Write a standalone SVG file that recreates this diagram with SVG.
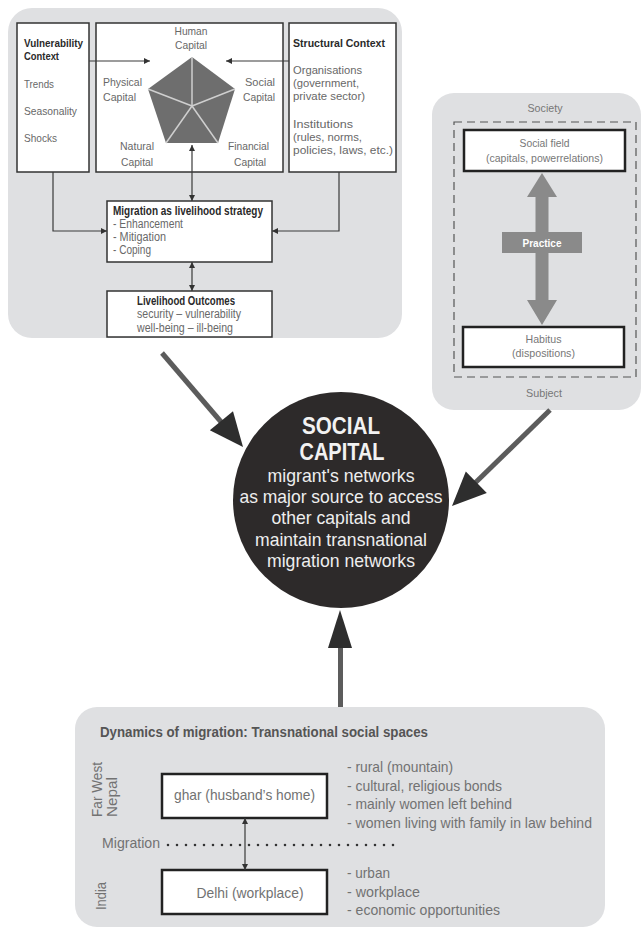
<svg xmlns="http://www.w3.org/2000/svg" width="644" height="930" viewBox="0 0 644 930">
<defs>
<style>
text{font-family:"Liberation Sans",Arial,sans-serif;}
.panel{fill:#dfe0e2;}
.box{fill:#fff;stroke:#333;stroke-width:1.5;}
.bbox{fill:#fff;stroke:#222;stroke-width:2.5;}
.t{font-size:11px;fill:#686868;}
.tb{font-size:11px;font-weight:bold;fill:#2a2a2a;}
.m{font-size:12px;fill:#686868;}
.mb{font-size:12px;font-weight:bold;fill:#2a2a2a;}
.s{font-size:11.5px;fill:#777;text-anchor:middle;}
.c1{font-size:23px;font-weight:bold;fill:#f2f2f2;text-anchor:middle;}
.c2{font-size:19px;fill:#eee;text-anchor:middle;}
.g{font-size:14.5px;fill:#727272;}
.thin{stroke:#3a3a3a;stroke-width:1.2;fill:none;}
.big{stroke:#5c5c5c;stroke-width:5;fill:none;}
.head{fill:#2e2e2e;}
.spoke{stroke:#cfcfcf;stroke-width:1.5;}
</style>
<marker id="ah" viewBox="0 0 10 10" refX="10" refY="5" markerWidth="7" markerHeight="6" orient="auto-start-reverse" markerUnits="userSpaceOnUse"><path d="M0,0 L10,5 L0,10 z" fill="#333"/></marker>
</defs>
<rect width="644" height="930" fill="#fff"/>

<g id="livelihood-panel">
<rect class="panel" x="8" y="8" width="394" height="330" rx="24"/>
</g>

<g id="vulnerability-context">
<rect class="box" x="17" y="23" width="72" height="149"/>
<text class="tb" x="24" y="47" textLength="59" lengthAdjust="spacingAndGlyphs">Vulnerability</text>
<text class="tb" x="24" y="60" textLength="35" lengthAdjust="spacingAndGlyphs">Context</text>
<text class="t" x="24" y="88" textLength="30" lengthAdjust="spacingAndGlyphs">Trends</text>
<text class="t" x="24" y="115" textLength="53" lengthAdjust="spacingAndGlyphs">Seasonality</text>
<text class="t" x="24" y="142" textLength="33" lengthAdjust="spacingAndGlyphs">Shocks</text>
</g>

<g id="capitals">
<rect class="box" x="96" y="23" width="187" height="149"/>
<polygon points="192,57 235,89 218,143 166,143 148,89" fill="#6e6e6e"/>
<line class="spoke" x1="192" y1="106" x2="192" y2="57"/>
<line class="spoke" x1="192" y1="106" x2="235" y2="89"/>
<line class="spoke" x1="192" y1="106" x2="218" y2="143"/>
<line class="spoke" x1="192" y1="106" x2="166" y2="143"/>
<line class="spoke" x1="192" y1="106" x2="148" y2="89"/>
<text class="t" x="191" y="35" text-anchor="middle" textLength="33" lengthAdjust="spacingAndGlyphs">Human</text>
<text class="t" x="191" y="49" text-anchor="middle" textLength="32" lengthAdjust="spacingAndGlyphs">Capital</text>
<text class="t" x="103" y="86" textLength="39" lengthAdjust="spacingAndGlyphs">Physical</text>
<text class="t" x="103" y="101" textLength="33" lengthAdjust="spacingAndGlyphs">Capital</text>
<text class="t" x="275" y="86" text-anchor="end" textLength="30" lengthAdjust="spacingAndGlyphs">Social</text>
<text class="t" x="275" y="101" text-anchor="end" textLength="32" lengthAdjust="spacingAndGlyphs">Capital</text>
<text class="t" x="137" y="150" text-anchor="middle" textLength="34" lengthAdjust="spacingAndGlyphs">Natural</text>
<text class="t" x="137" y="166" text-anchor="middle" textLength="32" lengthAdjust="spacingAndGlyphs">Capital</text>
<text class="t" x="269" y="150" text-anchor="end" textLength="41" lengthAdjust="spacingAndGlyphs">Financial</text>
<text class="t" x="266" y="166" text-anchor="end" textLength="32" lengthAdjust="spacingAndGlyphs">Capital</text>
</g>

<g id="structural-context">
<rect class="box" x="289" y="23" width="107" height="149"/>
<text class="tb" x="293" y="47" textLength="92" lengthAdjust="spacingAndGlyphs">Structural Context</text>
<text class="t" x="293" y="74" textLength="69" lengthAdjust="spacingAndGlyphs">Organisations</text>
<text class="t" x="293" y="87" textLength="66" lengthAdjust="spacingAndGlyphs">(government,</text>
<text class="t" x="293" y="100" textLength="72" lengthAdjust="spacingAndGlyphs">private sector)</text>
<text class="t" x="293" y="128" textLength="60" lengthAdjust="spacingAndGlyphs">Institutions</text>
<text class="t" x="293" y="141" textLength="69" lengthAdjust="spacingAndGlyphs">(rules, norms,</text>
<text class="t" x="293" y="154" textLength="100" lengthAdjust="spacingAndGlyphs">policies, laws, etc.)</text>
</g>

<g id="migration-strategy">
<rect class="box" x="107" y="201" width="165" height="61"/>
<text class="mb" x="113" y="215" textLength="150" lengthAdjust="spacingAndGlyphs">Migration as livelihood strategy</text>
<text class="m" x="113" y="228" textLength="70" lengthAdjust="spacingAndGlyphs">- Enhancement</text>
<text class="m" x="113" y="241" textLength="53" lengthAdjust="spacingAndGlyphs">- Mitigation</text>
<text class="m" x="113" y="254" textLength="38" lengthAdjust="spacingAndGlyphs">- Coping</text>
</g>

<g id="livelihood-outcomes">
<rect class="box" x="107" y="291" width="165" height="46"/>
<text class="mb" x="137" y="305" textLength="98" lengthAdjust="spacingAndGlyphs">Livelihood Outcomes</text>
<text class="m" x="137" y="318" textLength="104" lengthAdjust="spacingAndGlyphs">security – vulnerability</text>
<text class="m" x="137" y="332" textLength="96" lengthAdjust="spacingAndGlyphs">well-being – ill-being</text>
</g>

<g id="society-panel">
<rect class="panel" x="432" y="93" width="209" height="317" rx="22"/>
<text class="s" x="545" y="112" textLength="35" lengthAdjust="spacingAndGlyphs">Society</text>
<rect x="454" y="122" width="182" height="255" fill="none" stroke="#555" stroke-width="1.2" stroke-dasharray="8,5"/>
<text class="s" x="544" y="397" textLength="36" lengthAdjust="spacingAndGlyphs">Subject</text>
</g>

<g id="social-field">
<rect class="bbox" x="464" y="130" width="161" height="41"/>
<text class="s" x="544.5" y="147" textLength="50" lengthAdjust="spacingAndGlyphs">Social field</text>
<text class="s" x="544.5" y="162" textLength="117" lengthAdjust="spacingAndGlyphs">(capitals, powerrelations)</text>
</g>

<g id="habitus">
<rect class="bbox" x="463" y="327" width="161" height="40"/>
<text class="s" x="543.5" y="343" textLength="36" lengthAdjust="spacingAndGlyphs">Habitus</text>
<text class="s" x="543.5" y="357" textLength="63" lengthAdjust="spacingAndGlyphs">(dispositions)</text>
</g>

<g id="social-capital">
<circle cx="341" cy="500" r="108" fill="#2d2a2a"/>
<text class="c1" x="341" y="434" textLength="78" lengthAdjust="spacingAndGlyphs">SOCIAL</text>
<text class="c1" x="342" y="460" textLength="85" lengthAdjust="spacingAndGlyphs">CAPITAL</text>
<text class="c2" x="341" y="482" textLength="147" lengthAdjust="spacingAndGlyphs">migrant's networks</text>
<text class="c2" x="341" y="503" textLength="203" lengthAdjust="spacingAndGlyphs">as major source to access</text>
<text class="c2" x="341" y="524" textLength="139" lengthAdjust="spacingAndGlyphs">other capitals and</text>
<text class="c2" x="341" y="546" textLength="172" lengthAdjust="spacingAndGlyphs">maintain transnational</text>
<text class="c2" x="341" y="567" textLength="148" lengthAdjust="spacingAndGlyphs">migration networks</text>
</g>

<g id="transnational-panel">
<rect class="panel" x="75" y="707" width="530" height="220" rx="22"/>
<text x="100" y="737" font-size="14.5" font-weight="bold" fill="#555" textLength="328" lengthAdjust="spacingAndGlyphs">Dynamics of migration: Transnational social spaces</text>
<text class="g" transform="translate(102,817) rotate(-90)" textLength="55" lengthAdjust="spacingAndGlyphs">Far West</text>
<text class="g" transform="translate(117,817) rotate(-90)" textLength="40" lengthAdjust="spacingAndGlyphs">Nepal</text>
<text class="g" transform="translate(106,910) rotate(-90)" textLength="28" lengthAdjust="spacingAndGlyphs">India</text>
<text class="g" x="102" y="848" textLength="58" lengthAdjust="spacingAndGlyphs">Migration</text>
<line x1="168" y1="845" x2="400" y2="845" stroke="#333" stroke-width="2.6" stroke-linecap="round" stroke-dasharray="0,9"/>
<text class="g" x="347" y="772" textLength="106" lengthAdjust="spacingAndGlyphs">- rural (mountain)</text>
<text class="g" x="347" y="790.5" textLength="155" lengthAdjust="spacingAndGlyphs">- cultural, religious bonds</text>
<text class="g" x="347" y="809" textLength="165" lengthAdjust="spacingAndGlyphs">- mainly women left behind</text>
<text class="g" x="347" y="827.5" textLength="245" lengthAdjust="spacingAndGlyphs">- women living with family in law behind</text>
<text class="g" x="347" y="878" textLength="43" lengthAdjust="spacingAndGlyphs">- urban</text>
<text class="g" x="347" y="896.5" textLength="73" lengthAdjust="spacingAndGlyphs">- workplace</text>
<text class="g" x="347" y="915" textLength="153" lengthAdjust="spacingAndGlyphs">- economic opportunities</text>
</g>

<g id="ghar">
<rect class="bbox" x="162" y="774" width="165" height="44"/>
<text class="g" x="244.5" y="800" text-anchor="middle" textLength="141" lengthAdjust="spacingAndGlyphs">ghar (husband’s home)</text>
</g>

<g id="delhi">
<rect class="bbox" x="162" y="870" width="165" height="44"/>
<text class="g" x="250" y="898" text-anchor="middle" textLength="107" lengthAdjust="spacingAndGlyphs">Delhi (workplace)</text>
</g>

<g id="connectors">
<path class="thin" d="M89,61 H150" marker-end="url(#ah)"/>
<path class="thin" d="M289,61 H226" marker-end="url(#ah)"/>
<path class="thin" d="M53,172 V231 H107" marker-end="url(#ah)"/>
<path class="thin" d="M339,172 V231 H272" marker-end="url(#ah)"/>
<path class="thin" d="M192,145 V201" marker-start="url(#ah)" marker-end="url(#ah)"/>
<path class="thin" d="M192,262 V291" marker-start="url(#ah)" marker-end="url(#ah)"/>
<path class="thin" d="M245,818 V870" marker-start="url(#ah)" marker-end="url(#ah)"/>
<path d="M542,173 L557,197 L548.5,197 L548.5,300 L557,300 L542,325 L527,300 L535.5,300 L535.5,197 L527,197 Z" fill="#8a8a8a"/>
<rect x="502" y="232" width="80" height="21" fill="#8a8a8a"/>
<text x="542" y="247" font-size="11px" font-weight="bold" fill="#fff" text-anchor="middle" textLength="39" lengthAdjust="spacingAndGlyphs">Practice</text>
<line class="big" x1="162" y1="353" x2="222" y2="423"/>
<polygon class="head" points="243,447 209.8,430.2 233,411.2"/>
<line class="big" x1="550" y1="410" x2="474" y2="484"/>
<polygon class="head" points="452,506 465.8,471.5 486.8,492.9"/>
<line class="big" x1="340.5" y1="707" x2="340.5" y2="646"/>
<polygon class="head" points="340,610 352,648 328,648"/>
</g>
</svg>
